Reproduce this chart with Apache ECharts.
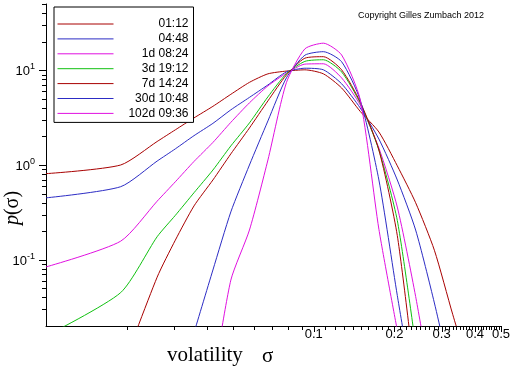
<!DOCTYPE html>
<html><head><meta charset="utf-8">
<script src="https://cdn.jsdelivr.net/npm/echarts@6/dist/echarts.min.js"></script>
<style>html,body{margin:0;padding:0;background:#fff}#c{width:512px;height:366px}</style>
</head><body><div id="c"></div>
<script>
// ---- data ----
const sigma = [0.01, 0.019, 0.026, 0.0304, 0.0357, 0.042, 0.049, 0.0575, 0.0674, 0.079, 0.0926, 0.1086, 0.127, 0.149, 0.175, 0.205, 0.24, 0.282, 0.33, 0.387];
const seriesNames = ['01:12', '04:48', '1d 08:24', '3d 19:12', '7d 14:24', '30d 10:48', '102d 09:36'];
const p_0112 = [0.81, 1.0, 1.77, 2.35, 3.14, 4.16, 5.57, 7.45, 9.16, 9.8, 10.1, 9.16, 6.5, 3.68, 2.23, 0.98, 0.40, 0.126, 0.0266, 0.006];
const p_0448 = [0.45, 0.59, 1.10, 1.48, 2.04, 2.75, 3.82, 5.17, 7.0, 9.6, 10.5, 10.1, 7.2, 4.0, 1.88, 0.695, 0.206, 0.035, 0.005, null];
const p_1d   = [0.084, 0.157, 0.415, 0.665, 1.09, 1.73, 2.82, 4.53, 6.84, 9.3, 11.6, 11.7, 8.3, 4.3, 1.51, 0.36, 0.041, 0.003, null, null];
const p_3d   = [0.0157, 0.045, 0.175, 0.294, 0.51, 0.885, 1.59, 2.78, 5.24, 9.2, 12.4, 12.9, 9.6, 4.5, 1.44, 0.26, 0.0125, null, null, null];
const p_7d   = [null, 0.0065, 0.0655, 0.161, 0.37, 0.695, 1.31, 2.46, 4.75, 8.9, 13.4, 13.9, 10.1, 4.63, 1.44, 0.18, 0.005, null, null, null];
const p_30d  = [null, null, null, null, 0.017, 0.078, 0.32, 1.0, 2.92, 8.3, 14.4, 15.7, 12.3, 4.85, 0.695, 0.042, 0.003, null, null, null];
const p_102d = [null, null, null, null, null, 0.005, 0.061, 0.206, 1.13, 7.4, 16.8, 19.3, 14.5, 4.9, 0.21, 0.018, null, null, null, null];
const xMajorTicks = [0.1, 0.2, 0.3, 0.4, 0.5];
const xTickLabels = ['0.1', '0.2', '0.3', '0.4', '0.5'];
const xMinorTicks = [0.02,0.03,0.04,0.05,0.06,0.07,0.08,0.09,
  0.11,0.12,0.13,0.14,0.15,0.16,0.17,0.18,0.19,
  0.21,0.22,0.23,0.24,0.25,0.26,0.27,0.28,0.29,
  0.31,0.32,0.33,0.34,0.35,0.36,0.37,0.38,0.39,
  0.41,0.42,0.43,0.44,0.45,0.46,0.47,0.48,0.49];
const yMajorTicks = [0.1, 1, 10];
const yTickExponents = ['-1', '0', '1'];
const yMinorTicks = [0.03,0.04,0.05,0.06,0.07,0.08,0.09,0.2,0.3,0.4,0.5,0.6,0.7,0.8,0.9,2,3,4,5,6,7,8,9,20,30,40,50];
const X_MIN = 0.01, X_MAX = 0.5, Y_MIN = 0.02, Y_MAX = 50;

const colors = ['#a80000', '#2c2cc4', '#e010e0', '#10c010', '#a80000', '#2c2cc4', '#e010e0'];
const allValues = [p_0112, p_0448, p_1d, p_3d, p_7d, p_30d, p_102d];

const lineSeries = seriesNames.map((name, i) => ({
  name, type: 'line', symbol: 'none', smooth: 0.22,
  lineStyle: {width: 1, color: colors[i]}, itemStyle: {color: colors[i]},
  data: sigma.map((x, k) => [x, allValues[i][k]]).filter(d => d[1] !== null),
  z: 3
}));

const FONT = 'Liberation Sans, Arial, sans-serif';
const crisp = v => Math.round(v) + 0.5;

const xTickSeries = {
  type: 'custom', coordinateSystem: 'cartesian2d', clip: false, silent: true, z: 5,
  data: xMinorTicks.map(v => [v, Y_MIN, 0]).concat(xMajorTicks.map(v => [v, Y_MIN, 1])),
  renderItem: (params, api) => {
    const p = api.coord([api.value(0), Y_MIN]);
    const len = api.value(2) ? 6 : 4;
    return {type: 'line', shape: {x1: crisp(p[0]), y1: p[1], x2: crisp(p[0]), y2: p[1] + len},
            style: {stroke: '#000', lineWidth: 1}};
  }
};
const xLabelSeries = {
  type: 'custom', coordinateSystem: 'cartesian2d', clip: false, silent: true, z: 5,
  data: xMajorTicks.map((v, i) => [v, Y_MIN, i]),
  renderItem: (params, api) => {
    const p = api.coord([api.value(0), Y_MIN]);
    return {type: 'text', x: p[0], y: p[1] + 2,
            style: {text: xTickLabels[api.value(2)], fill: '#000', font: '13px ' + FONT, align: 'center', verticalAlign: 'top'}};
  }
};
const yTickSeries = {
  type: 'custom', coordinateSystem: 'cartesian2d', clip: false, silent: true, z: 5,
  data: yMinorTicks.map(v => [X_MIN, v, 0]).concat(yMajorTicks.map(v => [X_MIN, v, 1])),
  renderItem: (params, api) => {
    const p = api.coord([X_MIN, api.value(1)]);
    const len = api.value(2) ? 7 : 4;
    return {type: 'line', shape: {x1: p[0] - len, y1: crisp(p[1]), x2: p[0], y2: crisp(p[1])},
            style: {stroke: '#000', lineWidth: 1}};
  }
};
const yLabelSeries = {
  type: 'custom', coordinateSystem: 'cartesian2d', clip: false, silent: true, z: 5,
  data: yMajorTicks.map((v, i) => [X_MIN, v, i]),
  renderItem: (params, api) => {
    const p = api.coord([X_MIN, api.value(1)]);
    return {type: 'text', x: p[0] - 11, y: p[1],
            style: {text: '{b|10}{s|' + yTickExponents[api.value(2)] + '}', align: 'right', verticalAlign: 'middle',
                    rich: {b: {fontSize: 13, fontFamily: FONT, lineHeight: 16, fill: '#000', verticalAlign: 'bottom'},
                           s: {fontSize: 9, fontFamily: FONT, lineHeight: 11, fill: '#000', verticalAlign: 'top'}}}};
  }
};

const chart = echarts.init(document.getElementById('c'), null, {renderer: 'canvas'});
chart.setOption({
  animation: false,
  backgroundColor: '#fff',
  grid: {left: 46, right: 11, top: 4, bottom: 40, containLabel: false},
  xAxis: {type: 'log', logBase: 10, min: X_MIN, max: X_MAX,
          axisLine: {show: true, lineStyle: {color: '#000', width: 1}},
          axisTick: {show: false}, axisLabel: {show: false}, splitLine: {show: false}, minorTick: {show: false}},
  yAxis: {type: 'log', logBase: 10, min: Y_MIN, max: Y_MAX,
          axisLine: {show: true, lineStyle: {color: '#000', width: 1}},
          axisTick: {show: false}, axisLabel: {show: false}, splitLine: {show: false}, minorTick: {show: false}},
  legend: {
    data: seriesNames, orient: 'vertical', left: 54, top: 7,
    itemWidth: 56, itemHeight: 12, itemGap: 2.9,
    padding: [11, 5, 3, 3], borderColor: '#000', borderWidth: 1, backgroundColor: '#fff',
    selectedMode: false,
    itemStyle: {opacity: 0, borderWidth: 0},
    lineStyle: {width: 1},
    formatter: n => '{t|' + n + '}',
    textStyle: {rich: {t: {width: 70, align: 'right', fontSize: 12, fontFamily: FONT, color: '#000'}}}
  },
  graphic: [
    {type: 'text', left: 358, top: 11, z: 10,
     style: {text: 'Copyright Gilles Zumbach 2012', font: '9px ' + FONT, fill: '#000'}},
    {type: 'text', x: 13, y: 208, rotation: Math.PI / 2, z: 10,
     style: {text: '{i|p}{n|(σ)}', align: 'center', verticalAlign: 'middle',
             rich: {i: {fontSize: 20, fontStyle: 'italic', fontFamily: 'Liberation Serif, serif', fill: '#000'},
                    n: {fontSize: 20, fontFamily: 'Liberation Serif, serif', fill: '#000'}}}},
    {type: 'text', x: 167, y: 355, z: 10,
     style: {text: 'volatility', font: '21px Liberation Serif, serif', fill: '#000', verticalAlign: 'middle'}},
    {type: 'text', x: 262, y: 356, z: 10,
     style: {text: 'σ', font: '21px Liberation Serif, serif', fill: '#000', verticalAlign: 'middle'}}
  ],
  series: lineSeries.concat([xTickSeries, xLabelSeries, yTickSeries, yLabelSeries])
});
</script>
</body></html>
